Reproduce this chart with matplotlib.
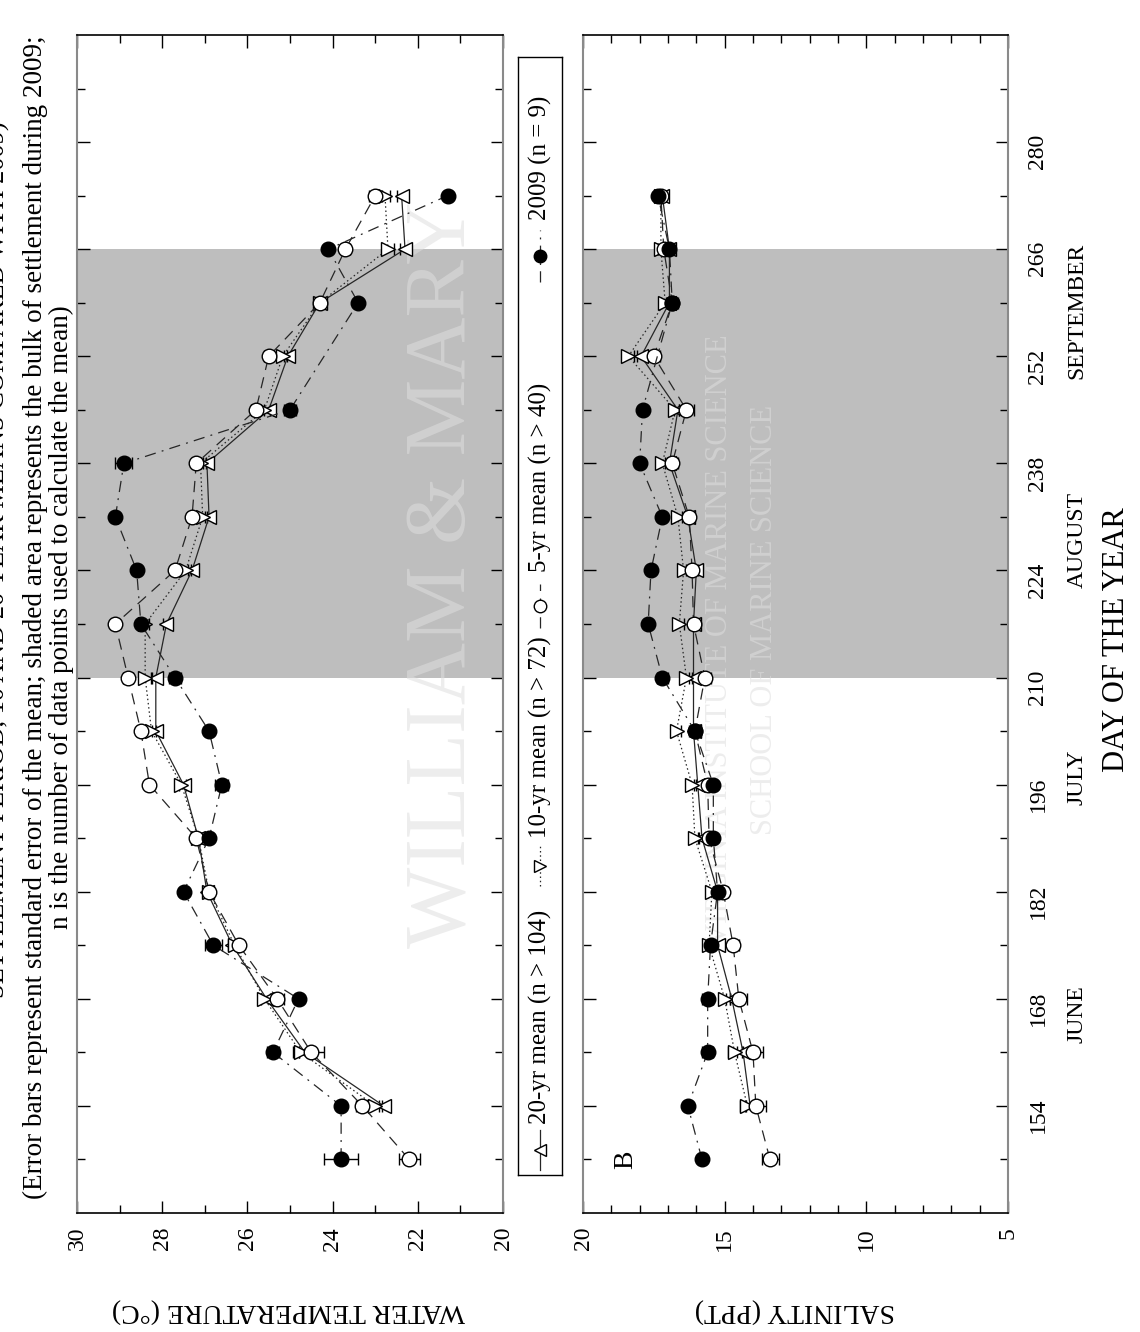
import numpy as np
import matplotlib
matplotlib.use("Agg")
import matplotlib.pyplot as plt
from matplotlib.transforms import blended_transform_factory

plt.rcParams['font.family'] = ['Liberation Serif', 'DejaVu Serif']

nan = np.nan

# sampling days (day of year)
days = [147, 154, 161, 168, 175, 182, 189, 196, 203, 210,
        217, 224, 231, 238, 245, 252, 259, 266, 273]

# water temperature (deg C)
temp_20yr = [nan, 22.8, 24.65, 25.55, 26.35, 26.95, 27.15, 27.5, 28.15, 28.15,
             27.9, 27.3, 26.9, 26.95, 25.5, 25.05, 24.3, 22.3, 22.38]
temp_10yr = [nan, 23.0, 24.75, 25.6, 26.3, 26.9, 27.15, 27.55, 28.25, 28.4,
             28.4, 27.45, 27.05, 27.1, 25.6, 25.17, 24.3, 22.7, 22.77]
temp_5yr = [22.2, 23.3, 24.5, 25.3, 26.2, 26.9, 27.2, 28.3, 28.5, 28.8,
            29.1, 27.7, 27.3, 27.2, 25.8, 25.5, 24.3, 23.7, 23.0]
temp_2009 = [23.8, 23.8, 25.4, 24.8, 26.8, 27.5, 26.9, 26.6, 26.9, 27.7,
             28.5, 28.6, 29.1, 28.9, 25.0, nan, 23.4, 24.1, 21.3]

temp_20yr_se = [nan, 0.12, 0.15, 0.12, 0.1, 0.1, 0.08, 0.1, 0.1, 0.12,
                0.08, 0.1, 0.1, 0.1, 0.1, 0.1, 0.1, 0.12, 0.12]
temp_10yr_se = [nan, 0.15, 0.18, 0.12, 0.12, 0.1, 0.1, 0.12, 0.1, 0.15,
                0.1, 0.12, 0.1, 0.12, 0.12, 0.1, 0.12, 0.15, 0.12]
temp_5yr_se = [0.25, 0.15, 0.3, 0.15, 0.1, 0.1, 0.1, 0.05, 0.1, 0.12,
               0.05, 0.1, 0.1, 0.1, 0.12, 0.1, 0.12, 0.1, 0.15]
temp_2009_se = [0.4, 0.05, 0.15, 0.05, 0.2, 0.05, 0.05, 0.15, 0.05, 0.15,
                0.05, 0.05, 0.05, 0.2, 0.15, nan, 0.05, 0.05, 0.05]

# salinity (ppt)
sal_20yr = [nan, 14.1, 14.35, 14.75, 15.25, 15.25, 15.8, 15.95, 16.1, 16.1,
            16.1, 16.0, 16.3, 16.95, 16.65, 17.95, 16.95, 16.95, 17.2]
sal_10yr = [nan, 14.2, 14.65, 15.0, 15.55, 15.45, 16.05, 16.15, 16.7, 16.35,
            16.6, 16.45, 16.65, 17.2, 16.75, 18.4, 17.1, 17.25, 17.25]
sal_5yr = [13.4, 13.9, 14.0, 14.5, 14.7, 15.05, 15.55, 15.6, 16.05, 15.7,
           16.1, 16.15, 16.25, 16.85, 16.35, 17.5, 16.85, 17.15, 17.25]
sal_2009 = [15.8, 16.3, 15.6, 15.6, 15.5, 15.25, 15.4, 15.4, 16.05, 17.2,
            17.7, 17.6, 17.2, 18.0, 17.9, nan, 16.85, 16.95, 17.35]

sal_20yr_se = [nan, 0.2, 0.2, 0.2, 0.15, 0.15, 0.15, 0.15, 0.12, 0.15,
               0.12, 0.15, 0.15, 0.15, 0.15, 0.15, 0.12, 0.15, 0.12]
sal_10yr_se = [nan, 0.25, 0.25, 0.2, 0.2, 0.15, 0.15, 0.15, 0.15, 0.2,
               0.15, 0.15, 0.15, 0.2, 0.15, 0.2, 0.15, 0.15, 0.15]
sal_5yr_se = [0.3, 0.35, 0.35, 0.3, 0.2, 0.15, 0.15, 0.15, 0.2, 0.2,
              0.15, 0.2, 0.15, 0.2, 0.25, 0.2, 0.2, 0.2, 0.2]
sal_2009_se = [0.05, 0.05, 0.2, 0.2, 0.05, 0.1, 0.05, 0.05, 0.05, 0.2,
               0.05, 0.05, 0.05, 0.05, 0.05, nan, 0.05, 0.05, 0.05]

day_ticks = [154, 168, 182, 196, 210, 224, 238, 252, 266, 280]
month_names = ['JUNE', 'JULY', 'AUGUST', 'SEPTEMBER']
month_mid = [166, 197, 228, 258]
settle_start, settle_end = 210, 266

legend_labels = ['20-yr mean (n > 104)', '10-yr mean (n > 72)',
                 '5-yr mean (n > 40)', '2009 (n = 9)']

W, H = 1140, 1332
fig = plt.figure(figsize=(W / 100, H / 100), dpi=100)


def fx(px):
    return px / W


def fy(py):
    return 1 - py / H


LC = '#262626'
styles = [
    dict(ls='-', marker='<', mfc='white', ms=10.5),
    dict(ls=(0, (1.2, 2.2)), marker='>', mfc='white', ms=10.5),
    dict(ls=(0, (9, 6)), marker='o', mfc='white', ms=10.5),
    dict(ls=(0, (9, 5, 1.5, 5)), marker='o', mfc='black', ms=10.5),
]


def draw_panel(ax, series, errors):
    ax.axhspan(settle_start, settle_end, color='#bebebe', lw=0, zorder=0.5)
    for vals, errs, st in zip(series, errors, styles):
        v = np.array(vals, dtype=float)
        e = np.array(errs, dtype=float)
        d = np.array(days, dtype=float)
        ok = ~np.isnan(v)
        ax.errorbar(v[ok], d[ok], xerr=e[ok], color=LC, lw=0.9, ls=st['ls'],
                    marker=st['marker'], mfc=st['mfc'], mec='black', mew=1.0,
                    ms=st['ms'], ecolor='black', elinewidth=1.0, capsize=4.5,
                    capthick=1.0, zorder=3)
    ax.set_ylim(140, 294)
    ax.set_yticks(day_ticks)
    ax.set_yticks([147, 161, 175, 189, 203, 217, 231, 245, 259, 273, 287], minor=True)
    ax.tick_params(which='both', direction='in', top=True, bottom=True,
                   left=True, right=True, width=1, colors='black')
    ax.tick_params(which='major', length=9)
    ax.tick_params(which='minor', length=5.5)
    ax.tick_params(axis='x', labelrotation=90, labelsize=17, pad=10)
    for side in ('left', 'right'):
        ax.spines[side].set_color('#8a8a8a')
        ax.spines[side].set_linewidth(1.5)
    for side in ('top', 'bottom'):
        ax.spines[side].set_color('black')
        ax.spines[side].set_linewidth(1.2)


top_px, bot_px = 35, 1213

# panel A: water temperature
axA = fig.add_axes([fx(77), fy(bot_px), (503 - 77) / W, (bot_px - top_px) / H])
draw_panel(axA, [temp_20yr, temp_10yr, temp_5yr, temp_2009],
           [temp_20yr_se, temp_10yr_se, temp_5yr_se, temp_2009_se])
axA.set_xlim(30, 20)
axA.set_xticks([30, 28, 26, 24, 22, 20])
axA.set_xticks([29, 27, 25, 23, 21], minor=True)
axA.tick_params(axis='y', labelleft=False, labelright=False)
axA.text(118, 147, 'A', rotation=90, fontsize=20, ha='center', va='center')

# panel B: salinity
axB = fig.add_axes([fx(583), fy(bot_px), (1008 - 583) / W, (bot_px - top_px) / H])
draw_panel(axB, [sal_20yr, sal_10yr, sal_5yr, sal_2009],
           [sal_20yr_se, sal_10yr_se, sal_5yr_se, sal_2009_se])
axB.set_xlim(20, 5)
axB.set_xticks([20, 15, 10, 5])
axB.set_xticks([19, 18, 17, 16, 14, 13, 12, 11, 9, 8, 7, 6], minor=True)
axB.tick_params(axis='y', labelleft=False, labelright=True, labelrotation=90,
                labelsize=17, pad=14)
axB.text(18.5, 147, 'B', rotation=90, fontsize=20, ha='center', va='center')

# faint institutional marks behind the data
wm = dict(color='#dedede', alpha=0.55, zorder=1, transform=fig.transFigure,
          clip_on=False, rotation=90)
axA.text(fx(445), fy(575), 'WILLIAM & MARY', fontsize=62, ha='center',
         va='center', **wm)
axB.text(fx(727), fy(945), 'VIRGINIA INSTITUTE OF MARINE SCIENCE', fontsize=22,
         rotation_mode='anchor', ha='left', va='baseline', **wm)
axB.text(fx(772), fy(835), 'SCHOOL OF MARINE SCIENCE', fontsize=22,
         rotation_mode='anchor', ha='left', va='baseline', **wm)

# day-of-year and month labels
tr = blended_transform_factory(fig.transFigure, axB.transData)
for name, d in zip(month_names, month_mid):
    fig.text(fx(1077), d, name, transform=tr, rotation=90, fontsize=17,
             ha='center', va='center')
fig.text(fx(1117), fy(640), 'DAY OF THE YEAR', rotation=90, fontsize=22,
         ha='center', va='center')

fig.text(fx(288), fy(1310), 'WATER TEMPERATURE (\u00b0C)', rotation=180,
         fontsize=20, ha='center', va='center')
fig.text(fx(795), fy(1310), 'SALINITY (PPT)', rotation=180,
         fontsize=20, ha='center', va='center')

# title block along the left edge (first line runs off the page)
fig.text(fx(-2), fy(560),
         'SETTLEMENT PERIOD, 10 AND 20 YEAR MEANS COMPARED WITH 2009)',
         rotation=90, fontsize=19, ha='center', va='center')
fig.text(fx(35), fy(617),
         '(Error bars represent standard error of the mean; shaded area '
         'represents the bulk of settlement during 2009;',
         rotation=90, fontsize=19.5, ha='center', va='center')
fig.text(fx(61), fy(617),
         'n is the number of data points used to calculate the mean)',
         rotation=90, fontsize=19.5, ha='center', va='center')

# legend strip between the panels
axL = fig.add_axes([fx(518), fy(1175), 44 / W, (1175 - 57) / H])
axL.set_xlim(0, 1)
axL.set_ylim(1175, 57)
axL.set_xticks([])
axL.set_yticks([])
for sp in axL.spines.values():
    sp.set_linewidth(1.0)
    sp.set_color('black')
leg_pos = [(1170, 1130, 1124), (886, 846, 838), (628, 584, 572), (282, 230, 220)]
for (y1, y2, yt), st, lab in zip(leg_pos, styles, legend_labels):
    axL.plot([0.5, 0.5], [y1, y2], color=LC, lw=0.9, ls=st['ls'])
    axL.plot([0.5], [(y1 + y2) / 2], marker=st['marker'], mfc=st['mfc'],
             mec='black', ms=9, mew=1.0, ls='none')
    axL.text(0.5, yt, lab, rotation=90, rotation_mode='anchor', ha='left',
             va='center', fontsize=18)

fig.savefig('out.png', dpi=100)
